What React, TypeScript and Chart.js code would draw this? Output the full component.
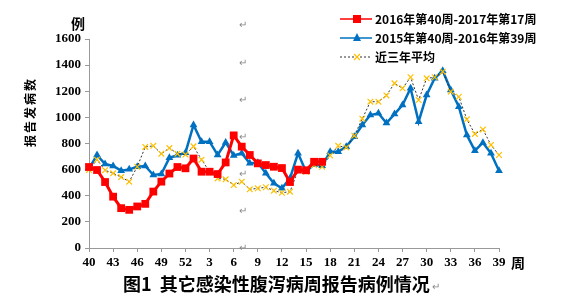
import React, { useEffect, useRef } from "react";
import { Chart, registerables } from "chart.js";

Chart.register(...registerables);

const weeks = [
  "40", "41", "42", "43", "44", "45", "46", "47", "48", "49", "50", "51", "52",
  "1", "2", "3", "4", "5", "6", "7", "8", "9", "10", "11", "12", "13", "14", "15",
  "16", "17", "18", "19", "20", "21", "22", "23", "24", "25", "26", "27", "28",
  "29", "30", "31", "32", "33", "34", "35", "36", "37", "38", "39",
];

const season2016 = [
  620, 597, 505, 393, 305, 292, 318, 338, 432, 508, 570, 620, 610,
  685, 584, 584, 566, 655, 862, 776, 712, 648, 635, 622, 612, 505, 600, 595, 660, 660,
];

const season2015 = [
  610, 712, 643, 628, 592, 602, 622, 628, 559, 567, 690, 710, 730,
  942, 814, 814, 712, 808, 708, 725, 648, 653, 572, 495, 457, 533, 725, 584,
  640, 630, 737, 737, 776, 852, 942, 1018, 1031, 957, 1025, 1095, 1223,
  967, 1171, 1299, 1357, 1210, 1082, 865, 745, 806, 725, 592,
];

const threeYearAvg = [
  597, 676, 595, 572, 543, 508, 622, 774, 782, 722, 765, 722, 715,
  778, 676, 584, 533, 526, 482, 508, 449, 457, 465, 439, 423, 431, 595, 584,
  635, 622, 708, 782, 770, 860, 990, 1120, 1120, 1168, 1261, 1223, 1307,
  1133, 1299, 1307, 1350, 1197, 1158, 985, 873, 908, 789, 712,
];

const seriesNames = ["2016年第40周-2017年第17周", "2015年第40周-2016年第39周", "近三年平均"];
const yUnit = "例";
const yTitle = "报告发病数";
const xUnit = "周";
const caption = "图1  其它感染性腹泻病周报告病例情况";

const RED = "#FF0000";
const BLUE = "#0070C0";
const YELLOW = "#FFC000";
const CJK = "'Noto Sans CJK SC', sans-serif";
const NUM = "'Liberation Serif', serif";

const extrasPlugin = {
  id: "extras",
  afterDraw(chart: any) {
    const ctx = chart.ctx as CanvasRenderingContext2D;
    ctx.save();
    ctx.fillStyle = "#000";
    ctx.font = `bold 14px ${CJK}`;
    ctx.textAlign = "center";
    ctx.textBaseline = "middle";
    ctx.fillText(yUnit, 78, 24);
    ctx.fillText(xUnit, 518, 263);
    ctx.save();
    ctx.translate(30, 113);
    ctx.rotate(-Math.PI / 2);
    ctx.font = `bold 12px ${CJK}`;
    const chars = Array.from(yTitle);
    chars.forEach((c, i) => {
      ctx.fillText(c, (i - (chars.length - 1) / 2) * 14, 0);
    });
    ctx.restore();
    ctx.font = `bold 18px ${CJK}`;
    ctx.textAlign = "left";
    ctx.fillText(caption, 123, 284);
    const cw = ctx.measureText(caption).width;
    ctx.fillStyle = "#888";
    ctx.font = `10px ${CJK}`;
    ctx.fillText("↵", 123 + cw + 2, 286);
    [24, 62, 99, 136, 173, 210, 247].forEach((y) => ctx.fillText("↵", 239, y));

    const rows = [
      { y: 19, color: RED, style: "rect" },
      { y: 38, color: BLUE, style: "triangle" },
      { y: 57, color: YELLOW, style: "crossRot" },
    ];
    rows.forEach((r, i) => {
      ctx.save();
      if (r.style === "crossRot") {
        ctx.strokeStyle = "#333";
        ctx.lineWidth = 1;
        ctx.setLineDash([2, 2]);
      } else {
        ctx.strokeStyle = r.color;
        ctx.lineWidth = 1.5;
      }
      ctx.beginPath();
      ctx.moveTo(340, r.y);
      ctx.lineTo(372, r.y);
      ctx.stroke();
      ctx.setLineDash([]);
      ctx.fillStyle = r.color;
      ctx.strokeStyle = r.color;
      if (r.style === "rect") {
        ctx.fillRect(353, r.y - 4, 8, 8);
      } else if (r.style === "triangle") {
        ctx.beginPath();
        ctx.moveTo(357, r.y - 5);
        ctx.lineTo(361, r.y + 3);
        ctx.lineTo(353, r.y + 3);
        ctx.closePath();
        ctx.fill();
      } else {
        ctx.lineWidth = 1.2;
        ctx.beginPath();
        ctx.moveTo(354, r.y - 3);
        ctx.lineTo(360, r.y + 3);
        ctx.moveTo(360, r.y - 3);
        ctx.lineTo(354, r.y + 3);
        ctx.stroke();
      }
      ctx.restore();
      ctx.fillStyle = "#000";
      ctx.font = `bold 12px ${CJK}`;
      ctx.textAlign = "left";
      ctx.textBaseline = "middle";
      ctx.fillText(seriesNames[i], 375, r.y);
    });
    ctx.restore();
  },
};

export default function App() {
  const ref = useRef<HTMLCanvasElement | null>(null);

  useEffect(() => {
    if (!ref.current) return;
    const chart = new Chart(ref.current, {
      type: "line",
      data: {
        labels: weeks,
        datasets: [
          {
            label: seriesNames[0],
            data: season2016,
            borderColor: RED,
            backgroundColor: RED,
            borderWidth: 3,
            pointStyle: "rect",
            pointRadius: 5.5,
            pointBorderWidth: 0,
            tension: 0,
            clip: false,
            order: 1,
          },
          {
            label: seriesNames[1],
            data: season2015,
            borderColor: BLUE,
            backgroundColor: BLUE,
            borderWidth: 2.5,
            pointStyle: "triangle",
            pointRadius: 4.5,
            pointBorderWidth: 0,
            tension: 0,
            clip: false,
            order: 3,
          },
          {
            label: seriesNames[2],
            data: threeYearAvg,
            borderColor: "#333",
            borderWidth: 1,
            borderDash: [2, 2],
            pointStyle: "crossRot",
            pointRadius: 4,
            pointBorderColor: YELLOW,
            pointBackgroundColor: YELLOW,
            pointBorderWidth: 1.2,
            tension: 0,
            clip: false,
            order: 2,
          },
        ],
      },
      options: {
        responsive: false,
        animation: false,
        layout: { padding: { left: 0, top: 39, right: 62, bottom: 0 } },
        plugins: {
          legend: { display: false },
          tooltip: { enabled: false },
          title: { display: false },
        },
        scales: {
          x: {
            type: "category",
            offset: false,
            afterFit: (s: any) => {
              s.height = 60;
            },
            border: { color: "#999", width: 1 },
            grid: {
              drawOnChartArea: false,
              drawTicks: true,
              tickLength: 4,
              tickColor: (c: any) => (c.index % 3 === 0 ? "#999" : "rgba(0,0,0,0)"),
            },
            ticks: {
              autoSkip: false,
              maxRotation: 0,
              padding: 3,
              color: "#000",
              font: { family: NUM, size: 13, weight: "bold" },
              callback: (_v: any, i: number) => (i % 3 === 0 ? weeks[i] : ""),
            },
          },
          y: {
            min: 0,
            max: 1600,
            afterFit: (s: any) => {
              s.width = 89;
            },
            border: { color: "#999", width: 1 },
            grid: { drawOnChartArea: false, tickLength: 4, tickColor: "#999" },
            ticks: {
              stepSize: 200,
              padding: 4,
              color: "#000",
              font: { family: NUM, size: 13, weight: "bold" },
              callback: (v: any) => String(v),
            },
          },
        },
      },
      plugins: [extrasPlugin],
    } as any);
    return () => chart.destroy();
  }, []);

  return (
    <div style={{ position: "fixed", left: 0, top: 0, width: 561, height: 308, background: "#fff" }}>
      <canvas ref={ref} width={561} height={308} style={{ display: "block" }} />
    </div>
  );
}
